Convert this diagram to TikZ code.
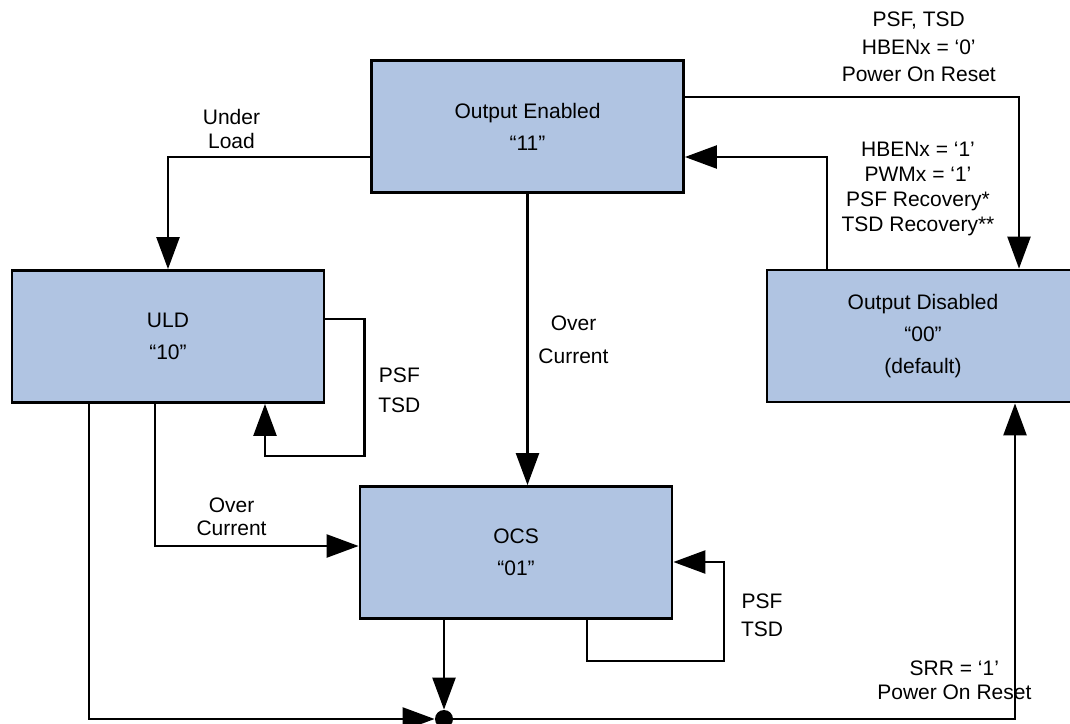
\documentclass[tikz,border=0pt]{standalone}
\usepackage{fontspec}
\setmainfont{Liberation Sans}
\usetikzlibrary{arrows.meta}

\definecolor{boxblue}{RGB}{176,196,226}

\tikzset{
	statebox/.style={draw, line width=1.4pt, fill=boxblue, minimum width=156pt, minimum height=66pt, inner sep=0pt, align=center, font=\fontsize{10.5}{16}\selectfont},
	lbl/.style={align=center, font=\fontsize{10.5}{#1}\selectfont},
	lbl/.default=12.5pt,
	trans/.style={line width=1.2pt, -{Triangle[length=16pt, width=11.5pt]}},
	junctiondot/.style={circle, fill, inner sep=0pt, minimum size=9pt},
}

\begin{document}
\begin{tikzpicture}[x=0.5pt, y=-0.5pt]
		\useasboundingbox (0,0) rectangle (1070,723);
		\node[statebox] (enabled) at (527.5,126.5) {Output Enabled\\“11”};
		\node[statebox] (uld) at (168,336.5) {ULD\\“10”};
		\node[statebox] (ocs) at (516,552.5) {OCS\\“01”};
		\node[statebox] (disabled) at (923,336) {Output Disabled\\“00”\\(default)};
		\node[junctiondot] (junction) at (444,719) {};
		\draw[trans] ([yshift=14.75pt]enabled.east) -| node[lbl=13.75pt, pos=0.35, yshift=25pt] {PSF, TSD\\HBENx = ‘0’\\Power On Reset} ([xshift=48pt]disabled.north);
		\draw[trans] ([xshift=-48pt]disabled.north) |- node[lbl, pos=0.356, xshift=45.5pt] {HBENx = ‘1’\\PWMx = ‘1’\\PSF Recovery*\\TSD Recovery**} ([yshift=-15.25pt]enabled.east);
		\draw[trans] ([yshift=-15.25pt]enabled.west) -| node[lbl=12pt, pos=0.343, yshift=14pt] {Under\\Load} (uld.north);
		\draw[trans] (enabled.south) -- node[lbl=16.5pt, xshift=23pt] {Over\\Current} (enabled.south |- ocs.north);
		\draw[trans] ([yshift=8.75pt]uld.east) -- ++(39,0) -- ++(0,137) node[lbl=15pt, pos=0.52, xshift=17.5pt] {PSF\\TSD} -| ([xshift=48.5pt]uld.south);
		\draw[trans] ([xshift=-6.5pt]uld.south) |- node[lbl=11.5pt, pos=0.688, yshift=14.5pt] {Over\\Current} ([yshift=3.25pt]ocs.west);
		\draw[trans] ([xshift=-39.5pt]uld.south) |- (junction);
		\draw[trans] ([xshift=-36pt]ocs.south) -- (junction);
		\draw[trans] ([xshift=35.5pt]ocs.south) -- ++(0,41) -- ++(137,0) |- node[lbl=14pt, pos=0.23, xshift=19pt] {PSF\\TSD} ([yshift=-4.75pt]ocs.east);
		\draw[trans] (junction) -| node[lbl=12pt, pos=0.446, yshift=19.5pt] {SRR = ‘1’\\Power On Reset} ([xshift=46pt]disabled.south);
	\end{tikzpicture}
\end{document}
